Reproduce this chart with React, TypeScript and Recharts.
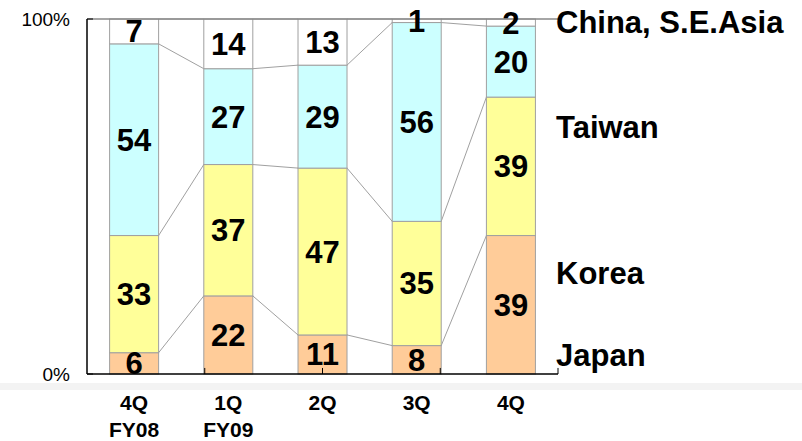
import React from "react";
import { BarChart, Bar, XAxis, YAxis, ReferenceLine, LabelList } from "recharts";

const quarters = ["4Q|FY08", "1Q|FY09", "2Q", "3Q", "4Q"];
const japan = [6, 22, 11, 8, 39];
const korea = [33, 37, 47, 35, 39];
const taiwan = [54, 27, 29, 56, 20];
const china = [7, 14, 13, 1, 2];
const regionNames = ["China, S.E.Asia", "Taiwan", "Korea", "Japan"];
const yTicks = [0, 100];
const boundaryTicks = [1, 2, 3, 4, 5];

const data = quarters.map((q, i) => ({
  q,
  japan: japan[i],
  korea: korea[i],
  taiwan: taiwan[i],
  china: china[i],
}));

const FONT = "'Liberation Sans', Arial, sans-serif";
const EDGE = "#a0a0a0";

const tops: Record<string, { x: number; y: number }> = {};

const makeShape = (key: string, fill: string) => (props: any) => {
  const { x, y, width, height, index } = props;
  tops[key + index] = { x: x + width, y };
  const prev = tops[key + (index - 1)];
  return (
    <g>
      {index > 0 && prev ? (
        <line x1={prev.x} y1={prev.y} x2={x} y2={y} stroke={EDGE} strokeWidth={1} />
      ) : null}
      <rect x={x} y={y} width={width} height={height} fill={fill} stroke={EDGE} strokeWidth={1} />
    </g>
  );
};

const CatTick = (props: any) => {
  const { x, y, payload } = props;
  const lines = String(payload.value).split("|");
  return (
    <g>
      {lines.map((l, i) => (
        <text
          key={i}
          x={x}
          y={y + 28 + i * 27}
          textAnchor="middle"
          fontFamily={FONT}
          fontWeight="bold"
          fontSize={21}
          fill="#000"
        >
          {l}
        </text>
      ))}
    </g>
  );
};

const labelStyle = {
  fontFamily: FONT,
  fontWeight: "bold" as const,
  fontSize: 31,
  fill: "#000",
};

const series = [
  { key: "japan", fill: "#FFCC99" },
  { key: "korea", fill: "#FFFF99" },
  { key: "taiwan", fill: "#CCFFFF" },
  { key: "china", fill: "#FFFFFF" },
];

const rightLabelBaselines = [33, 138, 284, 366];

export default function App() {
  return (
    <div style={{ position: "absolute", left: 0, top: 0, width: 802, height: 441, background: "#fff" }}>
      <div
        style={{
          position: "absolute",
          left: 0,
          top: 383,
          width: 802,
          height: 7,
          background: "#f3f3f3",
        }}
      />
      <BarChart
        width={802}
        height={441}
        data={data}
        margin={{ top: 19, right: 244, bottom: 0, left: 0 }}
        barCategoryGap="24%"
        style={{ position: "absolute", left: 0, top: 0 }}
      >
        <XAxis xAxisId="t" type="number" domain={[0, 5]} hide />
        <XAxis
          dataKey="q"
          axisLine={{ stroke: "#000", strokeWidth: 1.5 }}
          tickLine={false}
          tick={<CatTick />}
          height={67}
          interval={0}
        />
        <YAxis
          domain={[0, 100]}
          ticks={yTicks}
          width={87}
          axisLine={{ stroke: "#000", strokeWidth: 1.5 }}
          tickSize={-6}
          tickMargin={23}
          tickLine={{ stroke: "#000" }}
          tickFormatter={(v: number) => v + "%"}
          tick={{ fontFamily: FONT, fontSize: 19, fill: "#000" }}
        />
        <ReferenceLine y={100} stroke="#888" strokeWidth={1.5} />
        {series.map((s) => (
          <Bar
            key={s.key}
            dataKey={s.key}
            stackId="a"
            isAnimationActive={false}
            shape={makeShape(s.key, s.fill)}
          >
            <LabelList dataKey={s.key} position="center" style={labelStyle} />
          </Bar>
        ))}
        {boundaryTicks.map((b) => (
          <ReferenceLine
            key={b}
            xAxisId="t"
            segment={[
              { x: b, y: 0 },
              { x: b, y: 1.7 },
            ]}
            stroke="#000"
            strokeWidth={1}
          />
        ))}
      </BarChart>
      <svg
        width={802}
        height={441}
        style={{ position: "absolute", left: 0, top: 0, pointerEvents: "none" }}
      >
        {regionNames.map((n, i) => (
          <text
            key={n}
            x={556}
            y={rightLabelBaselines[i]}
            fontFamily={FONT}
            fontWeight="bold"
            fontSize={31}
            fill="#000"
          >
            {n}
          </text>
        ))}
      </svg>
    </div>
  );
}
